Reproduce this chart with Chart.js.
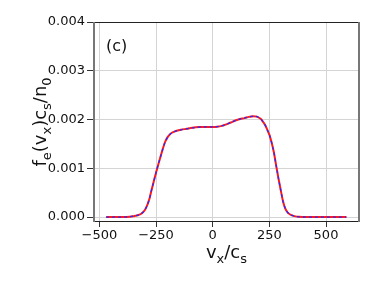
<!DOCTYPE html>
<html>
<head>
<meta charset="utf-8">
<script src="https://cdn.jsdelivr.net/npm/chart.js@4"></script>
<style>
html,body{margin:0;padding:0;background:#fff;}
#c{display:block;}
</style>
</head>
<body>
<canvas id="c" width="382" height="287"></canvas>
<script>
const vx = [-470,-420,-380,-350,-330,-320,-310,-300,-290,-280,-270,-260,-250,-240,-230,-220,-210,-200,-190,-180,-165,-140,-115,-90,-60,-30,0,20,40,60,80,100,120,140,160,180,195,210,220,230,240,250,260,270,280,290,300,310,320,330,340,350,365,380,400,430,500,590];
const fe = [0,0,0.000003,0.00002,0.00004,0.000055,0.00009,0.00014,0.00023,0.00036,0.00055,0.00073,0.00091,0.00108,0.00124,0.00140,0.00154,0.00163,0.00169,0.00173,0.00176,0.00179,0.00181,0.00183,0.001845,0.00185,0.00185,0.001855,0.00187,0.00190,0.00194,0.00198,0.00201,0.00203,0.002055,0.00207,0.00206,0.00202,0.00197,0.00190,0.00180,0.00169,0.00153,0.00133,0.00106,0.00080,0.00056,0.00033,0.00018,0.00010,0.00006,0.000035,0.000015,0.000006,0.000002,0,0,0];
const xTicks = [-500,-250,0,250,500];
const yTicks = [0,0.001,0.002,0.003,0.004];
const panelLabel = "(c)";

const pts = vx.map((v,i)=>({x:v,y:fe[i]}));
const FONT = "'DejaVu Sans', sans-serif";

const deco = {
  id:'deco',
  afterDraw(chart){
    const ctx = chart.ctx, a = chart.chartArea;
    ctx.save();
    ctx.strokeStyle = '#222'; ctx.lineWidth = 1;
    ctx.beginPath();
    ctx.moveTo(a.left, a.top+0.5); ctx.lineTo(a.right, a.top+0.5);
    ctx.moveTo(a.left, a.bottom-0.5); ctx.lineTo(a.right, a.bottom-0.5);
    ctx.stroke();
    ctx.strokeStyle = '#777'; ctx.lineWidth = 2;
    ctx.beginPath();
    ctx.moveTo(a.left+1, a.top); ctx.lineTo(a.left+1, a.bottom);
    ctx.moveTo(a.right-1, a.top); ctx.lineTo(a.right-1, a.bottom);
    ctx.stroke();
    ctx.fillStyle = '#111';
    ctx.font = "16px " + FONT;
    ctx.textBaseline = 'alphabetic'; ctx.textAlign = 'left';
    ctx.fillText(panelLabel, 106, 51);
    function drawParts(parts, x, y, size){
      let cx = x;
      for (const [t, sub] of parts){
        if (sub){
          ctx.font = Math.round(size*0.7) + "px " + FONT;
          ctx.fillText(t, cx, y + size*0.28);
        } else {
          ctx.font = size + "px " + FONT;
          ctx.fillText(t, cx, y);
        }
        cx += ctx.measureText(t).width;
      }
      return cx - x;
    }
    function measureParts(parts, size){
      let w = 0;
      for (const [t, sub] of parts){
        ctx.font = (sub ? Math.round(size*0.7) : size) + "px " + FONT;
        w += ctx.measureText(t).width;
      }
      return w;
    }
    const xParts = [["v",0],["x",1],["/",0],["c",0],["s",1]];
    const sz = 18;
    let w = measureParts(xParts, sz);
    drawParts(xParts, (a.left+a.right)/2 - w/2, 258, sz);
    const yParts = [["f",0],["e",1],["(",0],["v",0],["x",1],[")",0],["c",0],["s",1],["/",0],["n",0],["0",1]];
    w = measureParts(yParts, sz);
    ctx.translate(46, (a.top+a.bottom)/2);
    ctx.rotate(-Math.PI/2);
    drawParts(yParts, -w/2, 0, sz);
    ctx.restore();
  }
};

new Chart(document.getElementById('c'), {
  type:'line',
  data:{
    datasets:[
      {data:pts, borderColor:'#2a2aff', borderWidth:1.3, borderDash:[3,3], pointRadius:0, fill:false, cubicInterpolationMode:'monotone'},
      {data:pts, borderColor:'#ff1a1a', borderWidth:2, pointRadius:0, fill:false, cubicInterpolationMode:'monotone'}
    ]
  },
  options:{
    responsive:false, animation:false, devicePixelRatio:1,
    layout:{padding:{top:22,right:22,left:0,bottom:0}},
    plugins:{legend:{display:false}, tooltip:{enabled:false}},
    scales:{
      x:{
        type:'linear', min:-528, max:650,
        afterBuildTicks(s){ s.ticks = xTicks.map(v=>({value:v})); },
        afterFit(s){ s.height = 65; },
        grid:{color:'#d4d4d4', lineWidth:1, tickLength:5, tickColor:'#333'},
        border:{display:false},
        ticks:{padding:1, color:'#111', font:{family:FONT, size:13},
          callback:(v)=> (v<0 ? '\u2212'+Math.abs(v) : String(v)), maxRotation:0}
      },
      y:{
        type:'linear', min:-0.0001, max:0.004,
        afterBuildTicks(s){ s.ticks = yTicks.map(v=>({value:v})); },
        afterFit(s){ s.width = 93; },
        grid:{color:'#d4d4d4', lineWidth:1, tickLength:6, tickColor:'#333'},
        border:{display:false},
        ticks:{padding:2, color:'#111', font:{family:FONT, size:13},
          callback:(v)=> v.toFixed(3)}
      }
    }
  },
  plugins:[deco]
});
</script>
</body>
</html>
